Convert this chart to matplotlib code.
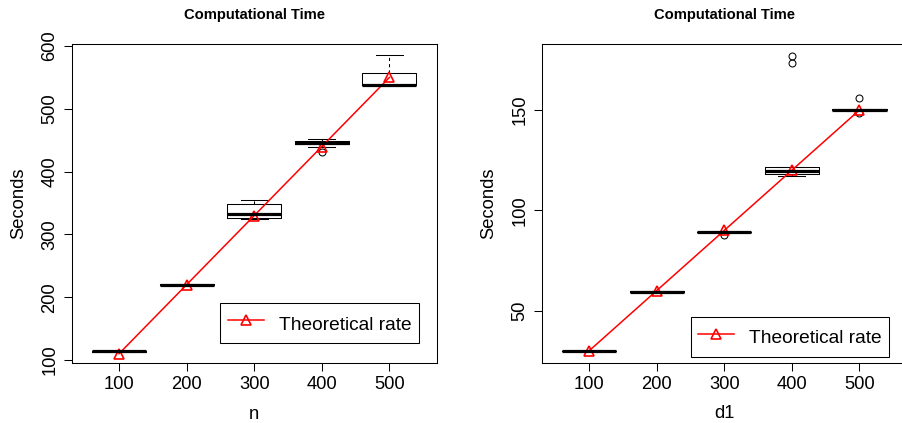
"""Computational time boxplots (n and d1) with theoretical rate overlay."""

import matplotlib
matplotlib.use("Agg")
import matplotlib.pyplot as plt

plt.rcParams["font.family"] = ["Liberation Sans", "DejaVu Sans"]

# ----- data -----
sizes = [100, 200, 300, 400, 500]

# left panel: vary n
n_whislo = [112.5, 219.3, 324.5, 438.7, 537.0]
n_q1 = [113.0, 219.7, 326.1, 444.0, 537.3]
n_med = [114.0, 220.0, 332.0, 446.0, 538.5]
n_q3 = [114.5, 220.4, 348.4, 448.5, 557.5]
n_whishi = [115.0, 220.8, 355.3, 452.4, 585.2]
n_fliers = [[], [], [], [430.7], []]
n_theory = [110, 220, 330, 440, 550]

# right panel: vary d1
d_whislo = [29.6, 59.0, 89.0, 117.1, 149.7]
d_q1 = [29.8, 59.1, 89.1, 118.3, 149.9]
d_med = [30.0, 59.3, 89.2, 119.5, 150.1]
d_q3 = [30.1, 59.6, 89.3, 121.4, 150.4]
d_whishi = [30.3, 59.8, 89.5, 121.7, 150.7]
d_fliers = [[], [], [87.8], [173.5, 176.8], [148.3, 156.1]]
d_theory = [30, 60, 90, 120, 150]


def _stats(whislo, q1, med, q3, whishi, fliers):
    return [
        {"whislo": a, "q1": b, "med": c, "q3": d, "whishi": e, "fliers": f}
        for a, b, c, d, e, f in zip(whislo, q1, med, q3, whishi, fliers)
    ]


def _panel(ax, stats, theory, ylim, yticks, xlabel, legend_y):
    pos = list(range(1, len(sizes) + 1))
    ax.bxp(
        stats, positions=pos, widths=0.8, capwidths=0.4,
        boxprops=dict(color="black", linewidth=0.75),
        medianprops=dict(color="black", linewidth=2.3, solid_capstyle="butt"),
        whiskerprops=dict(color="black", linewidth=0.75, linestyle=(0, (3, 3))),
        capprops=dict(color="black", linewidth=0.75),
        flierprops=dict(marker="o", markerfacecolor="none",
                        markeredgecolor="black", markersize=5,
                        markeredgewidth=0.75),
    )
    ax.plot(pos, theory, color="red", linewidth=1.1, marker="^",
            markersize=7, markerfacecolor="none", markeredgecolor="red",
            markeredgewidth=1.2, label="Theoretical rate")
    ax.set_xlim(0.3, 5.7)
    ax.set_ylim(*ylim)
    ax.set_xticks(pos)
    ax.set_xticklabels([str(s) for s in sizes])
    ax.set_yticks(yticks)
    ax.tick_params(axis="both", direction="out", length=5.5, width=0.75,
                   labelsize=13.2, pad=4)
    ax.tick_params(axis="y", labelrotation=90)
    for lab in ax.get_yticklabels():
        lab.set_va("center")
    for sp in ax.spines.values():
        sp.set_color("black")
        sp.set_linewidth(0.75)
    ax.set_title("Computational Time", fontsize=10.6, fontweight="bold", pad=18)
    ax.set_xlabel(xlabel, fontsize=13.2, labelpad=9)
    ax.set_ylabel("Seconds", fontsize=13.2, labelpad=10)
    leg = ax.legend(loc="lower right", bbox_to_anchor=(0.952, legend_y),
                    borderaxespad=0, fontsize=13.8, fancybox=False,
                    edgecolor="black", framealpha=1, borderpad=0.4,
                    handlelength=1.85, handletextpad=0.8, handleheight=1.6)
    leg.get_frame().set_linewidth(0.75)


fig = plt.figure(figsize=(9.02, 4.23), dpi=100)
ax1 = fig.add_axes([0.0795, 0.1418, 0.4047, 0.7541])
ax2 = fig.add_axes([0.6006, 0.1426, 0.4047, 0.7534])

_panel(ax1, _stats(n_whislo, n_q1, n_med, n_q3, n_whishi, n_fliers),
       n_theory, (95.2, 603.2), [100, 200, 300, 400, 500, 600], "n", 0.062)
_panel(ax2, _stats(d_whislo, d_q1, d_med, d_q3, d_whishi, d_fliers),
       d_theory, (24.1, 182.9), [50, 100, 150], "d1", 0.019)

fig.savefig("out.png", dpi=100)
